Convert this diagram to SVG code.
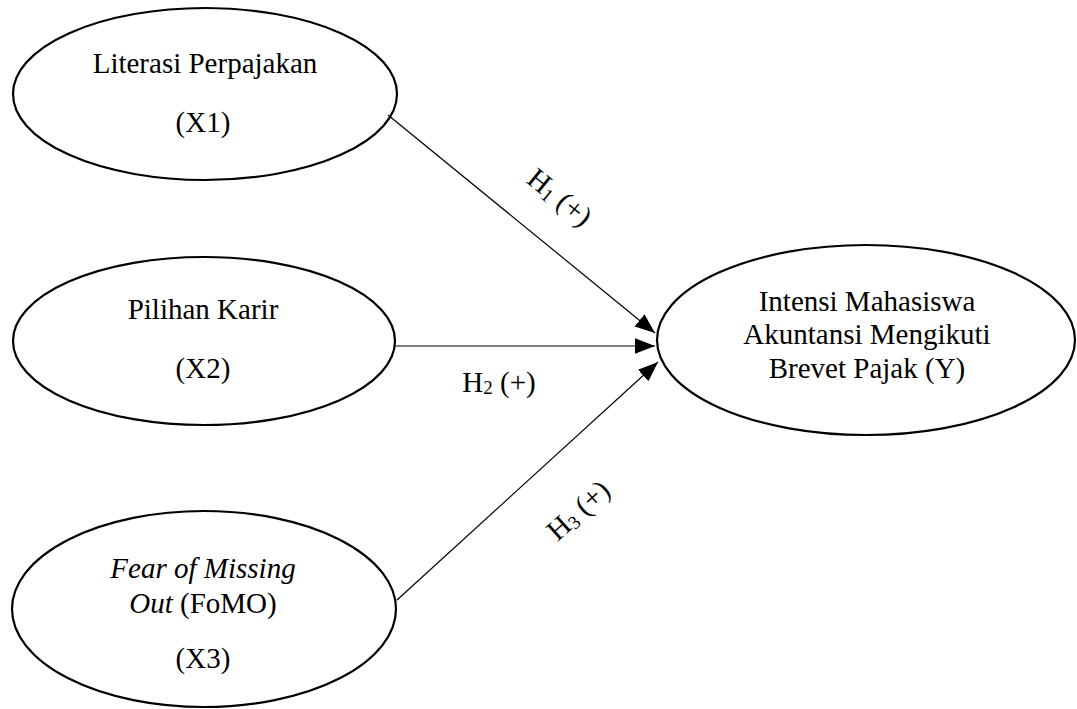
<svg xmlns="http://www.w3.org/2000/svg" width="1077" height="709" viewBox="0 0 1077 709">
<style>
.node{fill:#fff;stroke:#000;stroke-width:2.2}
.t{font-family:"Liberation Serif","Times New Roman",serif;font-size:29px;fill:#000;text-anchor:middle}
.edge{stroke:#000;stroke-width:1.2;fill:none;marker-end:url(#arr)}
.sub{font-size:19px}
</style>
<defs>
<marker id="arr" markerUnits="userSpaceOnUse" markerWidth="20" markerHeight="16" viewBox="0 0 18 14" refX="18" refY="7" orient="auto">
<path d="M0,0 L18,7 L0,14 Z" fill="#000"/>
</marker>
</defs>
<rect width="1077" height="709" fill="#fff"/>
<g id="x1">
<ellipse class="node" cx="205" cy="94" rx="192" ry="86"/>
<text class="t" x="205" y="73">Literasi Perpajakan</text>
<text class="t" x="203" y="132">(X1)</text>
</g>
<g id="x2">
<ellipse class="node" cx="204" cy="341" rx="191" ry="84"/>
<text class="t" x="203" y="319">Pilihan Karir</text>
<text class="t" x="203" y="378">(X2)</text>
</g>
<g id="x3">
<ellipse class="node" cx="204" cy="609" rx="192" ry="98"/>
<text class="t" x="203" y="578" font-style="italic">Fear of Missing</text>
<text class="t" x="203" y="613"><tspan font-style="italic">Out</tspan> (FoMO)</text>
<text class="t" x="203" y="668">(X3)</text>
</g>
<g id="y">
<ellipse class="node" cx="866" cy="340" rx="209" ry="95"/>
<text class="t" x="867" y="311">Intensi Mahasiswa</text>
<text class="t" x="867" y="344">Akuntansi Mengikuti</text>
<text class="t" x="867" y="378">Brevet Pajak (Y)</text>
</g>
<g id="connectors">
<line class="edge" x1="388" y1="115" x2="655" y2="333"/>
<line class="edge" x1="395" y1="346" x2="655" y2="346"/>
<line class="edge" x1="397" y1="600" x2="658" y2="362"/>
<g transform="translate(560,197) rotate(39)"><text class="t" x="0" y="10">H<tspan class="sub" dy="3">1</tspan><tspan dy="-3"> (+)</tspan></text></g>
<text class="t" x="499" y="392">H<tspan class="sub" dy="2">2</tspan><tspan dy="-2"> (+)</tspan></text>
<g transform="translate(578,510) rotate(-42)"><text class="t" x="0" y="10">H<tspan class="sub" dy="3">3</tspan><tspan dy="-3"> (+)</tspan></text></g>
</g>
</svg>
